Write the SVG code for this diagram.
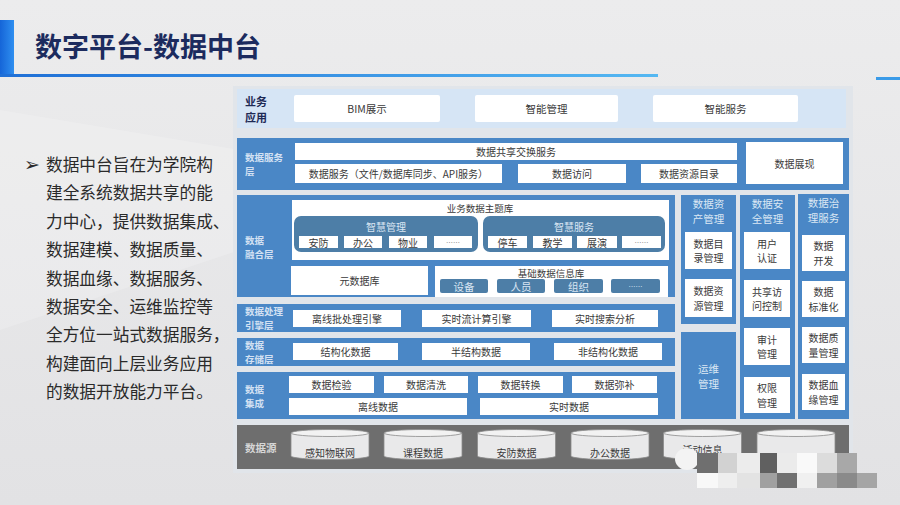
<svg xmlns="http://www.w3.org/2000/svg" width="900" height="505" viewBox="0 0 900 505">
<defs>
<linearGradient id="bg" x1="0" y1="0" x2="0" y2="1"><stop offset="0" stop-color="#ececed"/><stop offset="1" stop-color="#e2e2e4"/></linearGradient>
<linearGradient id="ul" x1="0" y1="0" x2="1" y2="0"><stop offset="0" stop-color="#1f6fd6"/><stop offset="1" stop-color="#55b8f2"/></linearGradient>
<linearGradient id="bar" x1="0" y1="0" x2="1" y2="0"><stop offset="0" stop-color="#1565d8"/><stop offset="1" stop-color="#2f8ff0"/></linearGradient>
<g id="cyl">
<path d="M0,0 L0,23 A39,3.5 0 0 0 78,23 L78,0 Z" fill="#e9e9ea" stroke="#8a8a8a" stroke-width="0.8"/>
<ellipse cx="39" cy="0" rx="39" ry="3.5" fill="#f2f2f2" stroke="#8a8a8a" stroke-width="0.8"/>
</g>
</defs>
<style>
text{font-family:"Noto Sans CJK SC","Noto Sans",sans-serif;dominant-baseline:central}
.blue{fill:#4a87c6}
.wh{fill:#ffffff}
.st{fill:#4d7ea7}
.lb{font-size:9.5px;font-weight:bold;fill:#d3e1f3}
.t{font-size:10px;fill:#3a3a3a;text-anchor:middle}
.tl{font-size:10px;fill:#dbe7f4;text-anchor:middle}
.hd{font-size:10.5px;fill:#dbe7f4;text-anchor:middle}
.ct{font-size:10.5px;fill:#d8e5f3;text-anchor:middle}
.body{font-size:16.7px;fill:#2a2a2a}
</style>
<rect width="900" height="505" fill="url(#bg)"/>
<polygon points="0,110 240,150 240,250 0,330" fill="#ffffff" opacity="0.18"/>

<g id="title">
<rect x="0" y="20" width="14" height="55" fill="url(#bar)"/>
<rect x="0" y="74" width="658" height="3" fill="url(#ul)"/>
<rect x="876" y="77" width="24" height="3" fill="#3a9be8"/>
<text x="35" y="45" style="font-size:27px;font-weight:bold;fill:#1c2b5e">数字平台-数据中台</text>
</g>

<g id="intro">
<text x="24" y="164" style="font-size:19px;fill:#2a2a2a;font-family:'DejaVu Sans',sans-serif">➢</text>
<text class="body" x="46" y="164">数据中台旨在为学院构</text>
<text class="body" x="46" y="192.4">建全系统数据共享的能</text>
<text class="body" x="46" y="220.8">力中心，提供数据集成、</text>
<text class="body" x="46" y="249.2">数据建模、数据质量、</text>
<text class="body" x="46" y="277.6">数据血缘、数据服务、</text>
<text class="body" x="46" y="306">数据安全、运维监控等</text>
<text class="body" x="46" y="334.4">全方位一站式数据服务，</text>
<text class="body" x="46" y="362.8">构建面向上层业务应用</text>
<text class="body" x="46" y="391.2">的数据开放能力平台。</text>
</g>

<rect x="233" y="86" width="620" height="387" fill="#e1e5ea"/>

<g id="app-layer">
<rect x="237" y="89" width="609" height="39" fill="#d6e5f5"/>
<text x="245" y="100.5" style="font-size:11px;font-weight:bold;fill:#1e2a55">业务</text>
<text x="245" y="116.5" style="font-size:11px;font-weight:bold;fill:#1e2a55">应用</text>
<rect class="wh" x="294" y="95" width="146" height="27" rx="2"/><text class="t" x="367" y="108.5" style="font-size:10.5px">BIM展示</text>
<rect class="wh" x="475" y="95" width="143" height="27" rx="2"/><text class="t" x="546.5" y="108.5" style="font-size:10.5px">智能管理</text>
<rect class="wh" x="653" y="95" width="145" height="27" rx="2"/><text class="t" x="725.5" y="108.5" style="font-size:10.5px">智能服务</text>
</g>

<g id="service-layer">
<rect class="blue" x="237" y="138" width="612" height="52"/>
<text class="lb" x="245" y="157">数据服务</text>
<text class="lb" x="245" y="171">层</text>
<rect class="wh" x="295" y="143" width="442" height="17"/><text class="t" x="516" y="151.5">数据共享交换服务</text>
<rect class="wh" x="295" y="164" width="207" height="19"/><text class="t" x="398.5" y="173.5">数据服务（文件/数据库同步、API服务）</text>
<rect class="wh" x="518" y="164" width="108" height="19"/><text class="t" x="572" y="173.5">数据访问</text>
<rect class="wh" x="641" y="164" width="96" height="19"/><text class="t" x="689" y="173.5">数据资源目录</text>
<rect class="wh" x="746" y="142" width="97" height="42"/><text class="t" x="794.5" y="163">数据展现</text>
</g>

<g id="fusion-layer">
<rect class="blue" x="237" y="195" width="438" height="102"/>
<text class="lb" x="245" y="240">数据</text>
<text class="lb" x="245" y="254">融合层</text>
<rect class="wh" x="292" y="200" width="377" height="60"/>
<text class="t" x="480" y="208" style="font-size:9.5px">业务数据主题库</text>
<rect class="st" x="294" y="216" width="184" height="36" rx="7"/>
<text class="tl" x="386" y="226">智慧管理</text>
<rect class="wh" x="299" y="236" width="39" height="12"/><text class="t" x="318.5" y="242">安防</text>
<rect class="wh" x="344" y="236" width="38" height="12"/><text class="t" x="363" y="242">办公</text>
<rect class="wh" x="389" y="236" width="38" height="12"/><text class="t" x="408" y="242">物业</text>
<rect class="wh" x="434" y="236" width="38" height="12"/><text class="t" x="453" y="242" style="font-size:7px;fill:#888">……</text>
<rect class="st" x="483" y="216" width="182" height="36" rx="7"/>
<text class="tl" x="574" y="226">智慧服务</text>
<rect class="wh" x="488" y="236" width="39" height="12"/><text class="t" x="507.5" y="242">停车</text>
<rect class="wh" x="533" y="236" width="39" height="12"/><text class="t" x="552.5" y="242">教学</text>
<rect class="wh" x="577" y="236" width="40" height="12"/><text class="t" x="597" y="242">展演</text>
<rect class="wh" x="622" y="236" width="39" height="12"/><text class="t" x="641.5" y="242" style="font-size:7px;fill:#888">……</text>
<rect class="wh" x="291" y="266" width="137" height="29"/><text class="t" x="359.5" y="280.5">元数据库</text>
<rect class="wh" x="435" y="266" width="233" height="31"/>
<text class="t" x="551" y="272.5" style="font-size:9.5px">基础数据信息库</text>
<rect class="st" x="440" y="279" width="48" height="14" rx="2"/><text class="ct" x="464" y="286">设备</text>
<rect class="st" x="497" y="279" width="48" height="14" rx="2"/><text class="ct" x="521" y="286">人员</text>
<rect class="st" x="554" y="279" width="49" height="14" rx="2"/><text class="ct" x="578.5" y="286">组织</text>
<rect class="st" x="611" y="279" width="49" height="14" rx="2"/><text class="ct" x="635.5" y="286" style="font-size:7px">……</text>
</g>

<g id="engine-layer">
<rect class="blue" x="237" y="304" width="438" height="28"/>
<text class="lb" x="245" y="311">数据处理</text>
<text class="lb" x="245" y="325">引擎层</text>
<rect class="wh" x="293" y="310" width="108" height="17"/><text class="t" x="347" y="318.5">离线批处理引擎</text>
<rect class="wh" x="422" y="310" width="109" height="17"/><text class="t" x="476.5" y="318.5">实时流计算引擎</text>
<rect class="wh" x="552" y="310" width="106" height="17"/><text class="t" x="605" y="318.5">实时搜索分析</text>
</g>

<g id="storage-layer">
<rect class="blue" x="237" y="338" width="438" height="28"/>
<text class="lb" x="245" y="345">数据</text>
<text class="lb" x="245" y="359">存储层</text>
<rect class="wh" x="293" y="343" width="105" height="17"/><text class="t" x="345.5" y="351.5">结构化数据</text>
<rect class="wh" x="422" y="343" width="108" height="17"/><text class="t" x="476" y="351.5">半结构数据</text>
<rect class="wh" x="554" y="343" width="108" height="17"/><text class="t" x="608" y="351.5">非结构化数据</text>
</g>

<g id="integration-layer">
<rect class="blue" x="237" y="372" width="438" height="47"/>
<text class="lb" x="245" y="388.5">数据</text>
<text class="lb" x="245" y="402.5">集成</text>
<rect class="wh" x="289" y="376" width="85" height="17"/><text class="t" x="331.5" y="384.5">数据检验</text>
<rect class="wh" x="384" y="376" width="84" height="17"/><text class="t" x="426" y="384.5">数据清洗</text>
<rect class="wh" x="478" y="376" width="85" height="17"/><text class="t" x="520.5" y="384.5">数据转换</text>
<rect class="wh" x="572" y="376" width="85" height="17"/><text class="t" x="614.5" y="384.5">数据弥补</text>
<rect class="wh" x="289" y="398" width="178" height="17"/><text class="t" x="378" y="406.5">离线数据</text>
<rect class="wh" x="480" y="398" width="178" height="17"/><text class="t" x="569" y="406.5">实时数据</text>
</g>

<g id="asset-mgmt">
<rect class="blue" x="681" y="195" width="55" height="129"/>
<text class="hd" x="708.5" y="203">数据资</text>
<text class="hd" x="708.5" y="218.5">产管理</text>
<rect class="wh" x="685" y="232" width="47" height="37"/>
<text class="t" x="708.5" y="243.25">数据目</text><text class="t" x="708.5" y="257.75">录管理</text>
<rect class="wh" x="685" y="279" width="47" height="38"/>
<text class="t" x="708.5" y="290.75">数据资</text><text class="t" x="708.5" y="305.25">源管理</text>
</g>

<g id="ops-mgmt">
<rect class="blue" x="681" y="332" width="55" height="87"/>
<text class="hd" x="708.5" y="368">运维</text>
<text class="hd" x="708.5" y="383.5">管理</text>
</g>

<g id="security-mgmt">
<rect class="blue" x="740" y="195" width="55" height="224"/>
<text class="hd" x="767.5" y="203">数据安</text>
<text class="hd" x="767.5" y="218.5">全管理</text>
<rect class="wh" x="744" y="232" width="46" height="37"/>
<text class="t" x="767" y="243.25">用户</text><text class="t" x="767" y="257.75">认证</text>
<rect class="wh" x="744" y="280" width="46" height="37"/>
<text class="t" x="767" y="291.25">共享访</text><text class="t" x="767" y="305.75">问控制</text>
<rect class="wh" x="744" y="328" width="46" height="37"/>
<text class="t" x="767" y="339.25">审计</text><text class="t" x="767" y="353.75">管理</text>
<rect class="wh" x="744" y="377" width="46" height="36"/>
<text class="t" x="767" y="387.75">权限</text><text class="t" x="767" y="402.25">管理</text>
</g>

<g id="governance">
<rect class="blue" x="798" y="194" width="51" height="225"/>
<text class="hd" x="823.5" y="202">数据治</text>
<text class="hd" x="823.5" y="217.5">理服务</text>
<rect class="wh" x="802" y="235" width="43" height="36"/>
<text class="t" x="823.5" y="245.75">数据</text><text class="t" x="823.5" y="260.25">开发</text>
<rect class="wh" x="802" y="281" width="43" height="36"/>
<text class="t" x="823.5" y="291.75">数据</text><text class="t" x="823.5" y="306.25">标准化</text>
<rect class="wh" x="802" y="327" width="43" height="36"/>
<text class="t" x="823.5" y="337.75">数据质</text><text class="t" x="823.5" y="352.25">量管理</text>
<rect class="wh" x="802" y="374" width="43" height="36"/>
<text class="t" x="823.5" y="384.75">数据血</text><text class="t" x="823.5" y="399.25">缘管理</text>
</g>

<g id="source-layer">
<rect x="237" y="425" width="612" height="44" fill="#6e6e6e"/>
<text x="245" y="447" style="font-size:10.5px;font-weight:bold;fill:#d6d6d6">数据源</text>
<use href="#cyl" x="291" y="433"/><text class="t" x="330" y="452.5">感知物联网</text>
<use href="#cyl" x="384" y="433"/><text class="t" x="423" y="452.5">课程数据</text>
<use href="#cyl" x="477.5" y="433"/><text class="t" x="516.5" y="452.5">安防数据</text>
<use href="#cyl" x="571" y="433"/><text class="t" x="610" y="452.5">办公数据</text>
<use href="#cyl" x="663.5" y="433"/><text class="t" x="702.5" y="449.5">活动信息</text>
<use href="#cyl" x="757" y="433"/>
</g>

<g id="mosaic">
<ellipse cx="687" cy="459" rx="12" ry="11" fill="#f3f3f3"/>
<rect x="697" y="453" width="21" height="20" fill="#6f6f6f"/>
<rect x="718" y="453" width="19" height="20" fill="#d2d2d2"/>
<rect x="737" y="453" width="23" height="20" fill="#ececec"/>
<rect x="760" y="453" width="17" height="20" fill="#606060"/>
<rect x="777" y="453" width="20" height="20" fill="#ebebeb"/>
<rect x="797" y="453" width="20" height="20" fill="#f9f9f9"/>
<rect x="817" y="453" width="20" height="20" fill="#dcdcdc"/>
<rect x="837" y="453" width="20" height="20" fill="#a8a8a8"/>
<rect x="697" y="473" width="21" height="15" fill="#f8f8f8"/>
<rect x="718" y="473" width="19" height="15" fill="#eeeeee"/>
<rect x="737" y="473" width="23" height="15" fill="#e3e3e3"/>
<rect x="760" y="473" width="17" height="15" fill="#a0a0a0"/>
<rect x="777" y="473" width="20" height="15" fill="#707070"/>
<rect x="797" y="473" width="20" height="15" fill="#f0f0f0"/>
<rect x="817" y="473" width="20" height="15" fill="#a0a0a0"/>
<rect x="837" y="473" width="20" height="15" fill="#8a8a8a"/>
<rect x="857" y="473" width="20" height="15" fill="#a5a5a5"/>
</g>
</svg>
